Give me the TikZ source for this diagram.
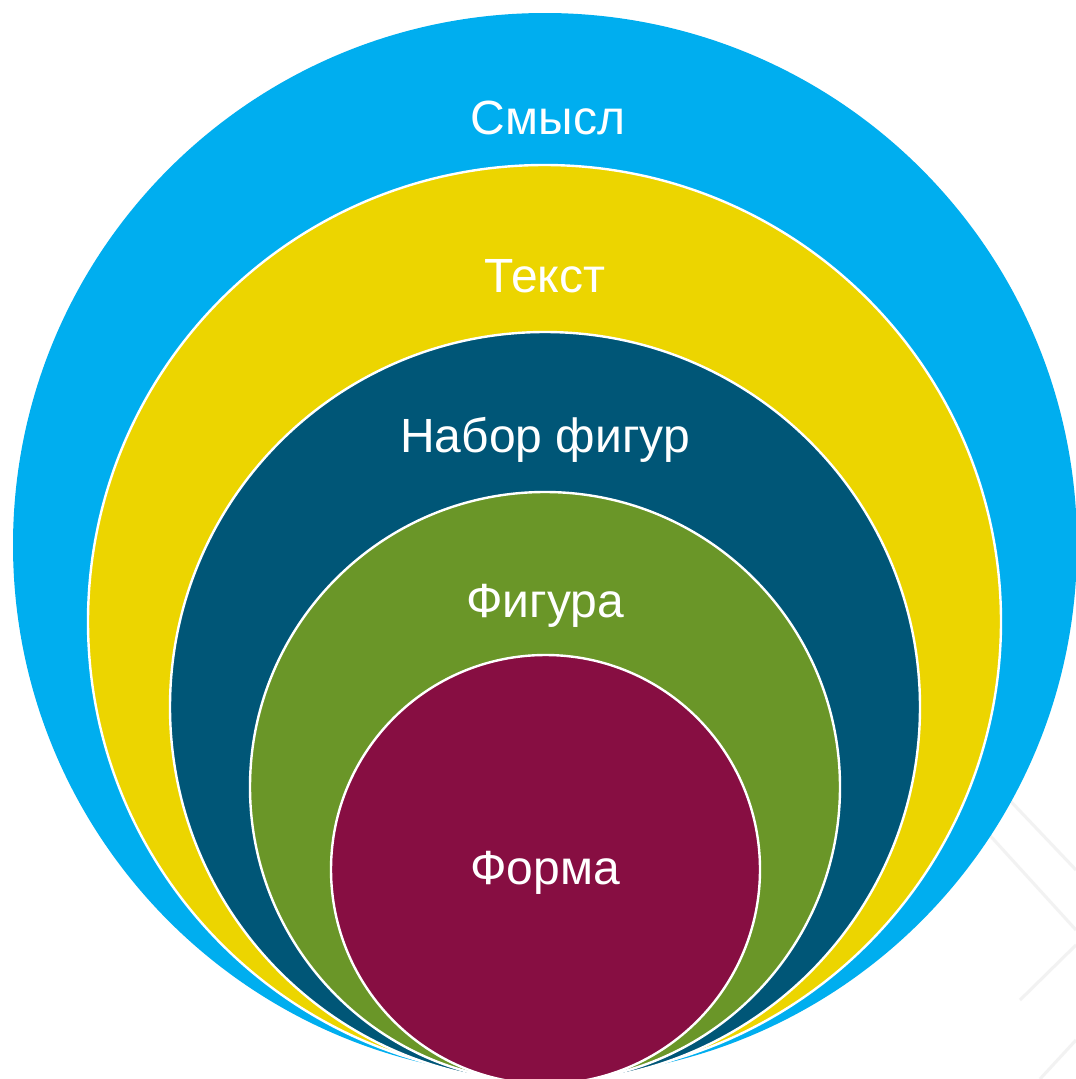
\documentclass[tikz,border=0pt]{standalone}
\usepackage{fontspec}
\setmainfont{Liberation Sans}
\definecolor{cblue}{RGB}{0,174,239}
\definecolor{cyellow}{RGB}{236,213,0}
\definecolor{cdark}{RGB}{0,86,119}
\definecolor{cgreen}{RGB}{106,150,40}
\definecolor{cmaroon}{RGB}{135,14,66}
\definecolor{ctex}{RGB}{242,242,242}
\begin{document}
\begin{tikzpicture}[x=1pt,y=-1pt,
  ring/.style={circle,inner sep=0pt,outer sep=0pt,draw=white,line width=2.4pt},
  lbl/.style={text=white,anchor=base,inner sep=0pt,font=\fontsize{48}{56}\selectfont},
  texline/.style={draw=ctex,line width=3pt}]
\useasboundingbox (0,0) rectangle (1076,1079);
\fill[white] (0,0) rectangle (1076,1079);
\begin{scope}
\clip (0,0) rectangle (1076,1079);
% faint background texture
\coordinate (t1) at (1000,790); \coordinate (t2) at (1076,870);
\coordinate (t3) at (985,830); \coordinate (t4) at (1076,930);
\coordinate (t5) at (1020,1000); \coordinate (t6) at (1076,945);
\coordinate (t7) at (1040,1079); \coordinate (t8) at (1076,1040);
\draw[texline] (t1) -- (t2);
\draw[texline] (t3) -- (t4);
\draw[texline] (t5) -- (t6);
\draw[texline] (t7) -- (t8);
\node[ring,draw=none,fill=cblue,minimum size=1064pt] (c1) at (545,545) {};
\node[ring,fill=cyellow,minimum size=913pt] (c2) at (544.5,621.5) {};
\node[ring,fill=cdark,minimum size=750pt] (c3) at (545,707) {};
\node[ring,fill=cgreen,minimum size=590pt] (c4) at (545,787) {};
\node[ring,fill=cmaroon,minimum size=429pt] (c5) at (545.5,869.5) {};
\end{scope}
\node[lbl] (l1) at (548,134) {Смысл};
\node[lbl] (l2) at (545,292) {Текст};
\node[lbl] (l3) at (545,452) {Набор фигур};
\node[lbl] (l4) at (545,617) {Фигура};
\node[lbl] (l5) at (545,884) {Форма};
\end{tikzpicture}
\end{document}
